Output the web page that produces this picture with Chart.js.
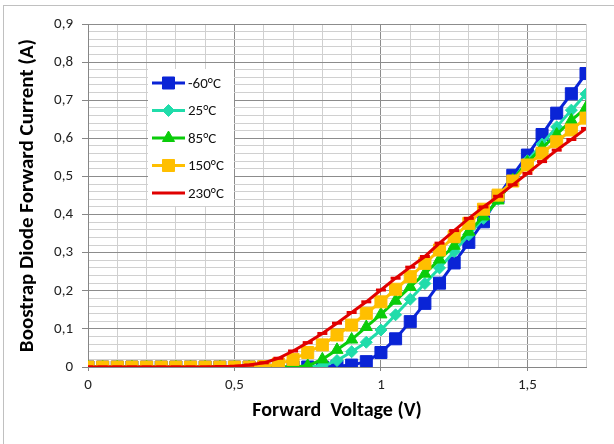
<!DOCTYPE html>
<html>
<head>
<meta charset="utf-8">
<script src="https://cdn.jsdelivr.net/npm/chart.js@4/dist/chart.umd.min.js"></script>
<style>
  html, body { margin: 0; padding: 0; background: #fff; }
  #wrap { width: 614px; height: 444px; }
</style>
</head>
<body>
<div id="wrap"><canvas id="chartDiode" width="614" height="444"></canvas></div>
<script>
// tensiones (V), paso de 0,05
const voltajes = [0, 0.05, 0.1, 0.15, 0.2, 0.25, 0.3, 0.35, 0.4, 0.45,
    0.5, 0.55, 0.6, 0.65, 0.7, 0.75, 0.8, 0.85, 0.9, 0.95,
    1.0, 1.05, 1.1, 1.15, 1.2, 1.25, 1.3, 1.35, 1.4, 1.45,
    1.5, 1.55, 1.6, 1.65, 1.7];

// corriente (A) por temperatura
const iMenos60 = [0, 0, 0, 0, 0, 0, 0, 0, 0, 0,
    0, 0, 0, 0, 0, 0, 0, 0.002, 0.005, 0.014,
    0.038, 0.074, 0.119, 0.167, 0.22, 0.273, 0.327, 0.381, 0.447, 0.503,
    0.556, 0.61, 0.666, 0.717, 0.77];
const i25 = [0, 0, 0, 0, 0, 0, 0, 0, 0, 0,
    0, 0, 0, 0, 0, 0, 0.003, 0.017, 0.04, 0.065,
    0.097, 0.137, 0.178, 0.219, 0.26, 0.303, 0.347, 0.39, 0.44, 0.49,
    0.541, 0.585, 0.63, 0.674, 0.716];
const i85 = [0, 0, 0, 0, 0, 0, 0, 0, 0, 0,
    0, 0, 0, 0, 0, 0.003, 0.02, 0.045, 0.072, 0.105,
    0.138, 0.174, 0.21, 0.245, 0.282, 0.318, 0.355, 0.395, 0.437, 0.49,
    0.537, 0.575, 0.61, 0.647, 0.68];
const i150 = [0, 0, 0, 0, 0, 0, 0, 0, 0, 0,
    0, 0, 0.001, 0.008, 0.02, 0.038, 0.058, 0.084, 0.11, 0.141,
    0.171, 0.204, 0.237, 0.272, 0.307, 0.342, 0.377, 0.414, 0.451, 0.488,
    0.53, 0.561, 0.591, 0.622, 0.653];
const i230 = [0, 0, 0, 0, 0, 0, 0, 0, 0, 0.001,
    0.002, 0.005, 0.011, 0.023, 0.042, 0.064, 0.088, 0.115, 0.143, 0.171,
    0.202, 0.233, 0.262, 0.29, 0.325, 0.358, 0.39, 0.42, 0.448, 0.478,
    0.508, 0.539, 0.569, 0.597, 0.626];

const etiquetas = ['-60°C', '25°C', '85°C', '150°C', '230°C'];

const FUENTE = 'Carlito, Lato, "Liberation Sans", sans-serif';

function puntos(serie) {
    return voltajes.map((v, i) => ({ x: v, y: serie[i] }));
}

function esMayor(v, paso) {
    const r = v / paso;
    return Math.abs(r - Math.round(r)) < 1e-6;
}

function formatear(v) {
    return String(Math.round(v * 10) / 10).replace('.', ',');
}

function serie(label, data, color, estilo, radio, borde, orden) {
    return {
        label: label,
        data: puntos(data),
        borderColor: color,
        backgroundColor: color,
        borderWidth: 3,
        pointStyle: estilo,
        pointRadius: radio,
        pointBorderWidth: borde,
        pointBackgroundColor: color,
        pointBorderColor: color,
        tension: 0,
        order: orden
    };
}

// marco gris de la imagen original
const marcoPlugin = {
    id: 'marco',
    beforeDraw(chart) {
        const ctx = chart.ctx;
        ctx.save();
        ctx.fillStyle = '#fff';
        ctx.fillRect(0, 0, chart.width, chart.height);
        ctx.strokeStyle = '#c0c0c0';
        ctx.lineWidth = 1;
        ctx.strokeRect(3.5, 5.5, chart.width, chart.height);
        ctx.restore();
    }
};

// leyenda dentro del área del gráfico
const leyendaPlugin = {
    id: 'leyendaInterna',
    afterDraw(chart) {
        const ctx = chart.ctx;
        const area = chart.chartArea;
        const x0 = area.left + 60;
        const y0 = area.top + 45;
        ctx.save();
        ctx.fillStyle = '#fff';
        ctx.fillRect(x0, y0, 86, 137);
        ctx.font = '15px ' + FUENTE;
        ctx.textBaseline = 'middle';
        chart.data.datasets.forEach((ds, i) => {
            const y = y0 + 14 + i * 27.5;
            ctx.strokeStyle = ds.borderColor;
            ctx.lineWidth = 3;
            ctx.beginPath();
            ctx.moveTo(x0 + 4, y);
            ctx.lineTo(x0 + 37, y);
            ctx.stroke();
            if (Chart.helpers && Chart.helpers.drawPoint && ds.pointStyle !== 'line') {
                ctx.fillStyle = ds.pointBackgroundColor;
                ctx.strokeStyle = ds.pointBorderColor;
                ctx.lineWidth = 1;
                Chart.helpers.drawPoint(ctx, {
                    pointStyle: ds.pointStyle,
                    radius: ds.pointRadius,
                    rotation: 0,
                    borderWidth: 1
                }, x0 + 20.5, y);
            }
            ctx.fillStyle = '#111';
            ctx.fillText(ds.label, x0 + 40, y + 1);
        });
        ctx.restore();
    }
};

new Chart(document.getElementById('chartDiode'), {
    type: 'line',
    data: {
        datasets: [
            serie(etiquetas[0], iMenos60, '#0a24d6', 'rect', 8.5, 1, 5),
            serie(etiquetas[1], i25, '#20dcaa', 'rectRot', 6, 1, 4),
            serie(etiquetas[2], i85, '#0acc0a', 'triangle', 7, 1, 3),
            serie(etiquetas[3], i150, '#ffbf00', 'rect', 8.5, 1, 2),
            serie(etiquetas[4], i230, '#e00000', 'line', 5, 3, 1)
        ]
    },
    options: {
        responsive: false,
        animation: false,
        layout: {
            padding: { left: 6, top: 24, right: 28, bottom: 10 }
        },
        plugins: {
            legend: { display: false },
            tooltip: { enabled: false }
        },
        scales: {
            x: {
                type: 'linear',
                min: 0,
                max: 1.7,
                afterFit: (scale) => { scale.height = 67; },
                border: { color: '#868686', width: 1 },
                grid: {
                    color: (c) => esMayor(c.tick.value, 0.5) ? '#8c8c8c' : '#d0d0d0',
                    tickColor: (c) => esMayor(c.tick.value, 0.5) ? '#868686' : 'rgba(0,0,0,0)',
                    tickLength: 4
                },
                ticks: {
                    stepSize: 0.1,
                    autoSkip: false,
                    maxRotation: 0,
                    padding: 5,
                    color: '#222',
                    font: { family: FUENTE, size: 15 },
                    callback: (v) => esMayor(v, 0.5) ? formatear(v) : ''
                },
                title: {
                    display: true,
                    text: 'Forward  Voltage (V)',
                    color: '#000',
                    font: { family: FUENTE, size: 20, weight: 'bold' },
                    padding: { top: 0, bottom: 11 }
                }
            },
            y: {
                type: 'linear',
                min: 0,
                max: 0.9,
                afterFit: (scale) => { scale.width = 82; },
                border: { color: '#868686', width: 1 },
                grid: {
                    color: (c) => esMayor(c.tick.value, 0.1) ? '#8c8c8c' : '#d0d0d0',
                    tickColor: (c) => esMayor(c.tick.value, 0.1) ? '#868686' : 'rgba(0,0,0,0)',
                    tickLength: 6
                },
                ticks: {
                    stepSize: 0.02,
                    autoSkip: false,
                    padding: 9,
                    color: '#222',
                    font: { family: FUENTE, size: 15 },
                    callback: (v) => esMayor(v, 0.1) ? formatear(v) : ''
                },
                title: {
                    display: true,
                    text: 'Boostrap Diode Forward Current (A)',
                    color: '#000',
                    font: { family: FUENTE, size: 21, weight: 'bold' },
                    padding: { top: 9, bottom: 0 }
                }
            }
        }
    },
    plugins: [marcoPlugin, leyendaPlugin]
});
</script>
</body>
</html>
